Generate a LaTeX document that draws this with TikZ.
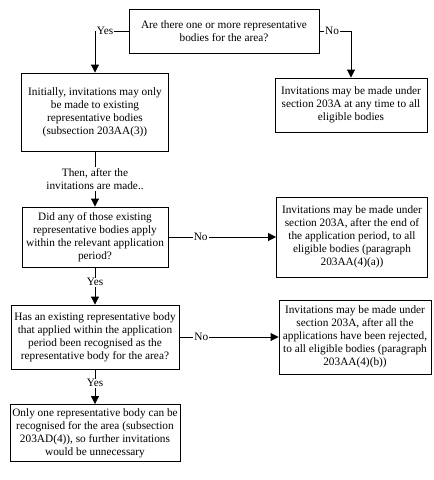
\documentclass[tikz,border=0pt]{standalone}
\usepackage{fontspec}
\setmainfont{Liberation Serif}
\usetikzlibrary{arrows.meta}
\begin{document}
\begin{tikzpicture}[x=1pt, y=-1pt, font=\fontsize{11.3}{13}\selectfont]

    % let's define some key values
    \def\xl{95}
    \def\xr{352}

    % Styles
    \tikzstyle{box}=[draw, line width=0.9pt, align=center, inner sep=1pt]
    \tikzstyle{link}=[-{Triangle[length=8pt,width=8pt]}, line width=0.9pt]
    \tikzstyle{tag}=[fill=white, inner sep=1pt]

    \useasboundingbox (0,0) rectangle (434,480);

    % questions and steps, left column
    \node[box, minimum width=190pt, minimum height=44pt] (q1) at (224,31)
        {Are there one or more representative\\bodies for the area?};
    \node[box, minimum width=147pt, minimum height=78pt] (s1) at (\xl,112)
        {Initially, invitations may only\\be made to existing\\representative bodies\\(subsection 203AA(3))};
    \node[box, minimum width=146pt, minimum height=60pt] (q2) at (\xl,237)
        {Did any of those existing\\representative bodies apply\\within the relevant application\\period?};
    \node[box, minimum width=168pt, minimum height=64pt] (q3) at (\xl,337)
        {Has an existing representative body\\that applied within the application\\period been recognised as the\\representative body for the area?};
    \node[box, minimum width=170pt, minimum height=57pt] (s2) at (\xl,433)
        {Only one representative body can be\\recognised for the area (subsection\\203AD(4)), so further invitations\\would be unnecessary};

    % outcomes, right column
    \node[box, minimum width=152pt, minimum height=54pt] (r1) at (351,105)
        {Invitations may be made under\\section 203A at any time to all\\eligible bodies};
    \node[box, minimum width=151pt, minimum height=80pt] (r2) at (\xr,237)
        {Invitations may be made under\\section 203A, after the end of\\the application period, to all\\eligible bodies (paragraph\\203AA(4)(a))};
    \node[box, minimum width=152pt, minimum height=74pt] (r3) at (355,337)
        {Invitations may be made under\\section 203A, after all the\\applications have been rejected,\\to all eligible bodies (paragraph\\203AA(4)(b))};

    % connectors
    \draw[link] (q1.west) -| node[tag, pos=0.35] {Yes} (s1.north);
    \draw[link] (q1.east) -| node[tag, pos=0.2] {No} (r1.north);
    \draw[link] (s1.south) -- node[tag, midway, align=center] {Then, after the\\invitations are made..} (q2.north);
    \draw[link] (q2.east) -- node[tag, pos=0.3] {No} (r2.west);
    \draw[link] (q2.south) -- node[tag, pos=0.4] {Yes} (q3.north);
    \draw[link] (q3.east) -- node[tag, pos=0.22] {No} (r3.west);
    \draw[link] (q3.south) -- node[tag, pos=0.4] {Yes} (s2.north);

\end{tikzpicture}
\end{document}
